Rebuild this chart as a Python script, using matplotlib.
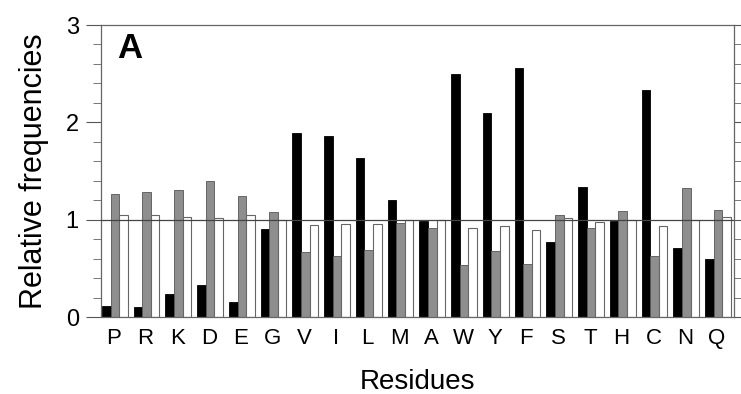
import numpy as np
import matplotlib.pyplot as plt
from matplotlib.ticker import MultipleLocator

plt.rcParams['font.family'] = ['Liberation Sans', 'DejaVu Sans']

residues = ['P', 'R', 'K', 'D', 'E', 'G', 'V', 'I', 'L', 'M',
            'A', 'W', 'Y', 'F', 'S', 'T', 'H', 'C', 'N', 'Q']
black_vals = [0.11, 0.10, 0.24, 0.33, 0.15, 0.90, 1.89, 1.86, 1.63, 1.20,
              0.99, 2.50, 2.10, 2.56, 0.77, 1.34, 0.99, 2.33, 0.71, 0.60]
gray_vals = [1.26, 1.28, 1.30, 1.40, 1.24, 1.08, 0.67, 0.63, 0.69, 0.97,
             0.91, 0.53, 0.68, 0.54, 1.05, 0.91, 1.09, 0.63, 1.33, 1.10]
white_vals = [1.05, 1.05, 1.03, 1.02, 1.05, 1.00, 0.95, 0.96, 0.96, 1.00,
              1.00, 0.91, 0.93, 0.89, 1.02, 0.98, 1.00, 0.93, 1.00, 1.03]

x = np.arange(len(residues))
w = 0.27

fig = plt.figure(figsize=(7.41, 3.94), dpi=100)
ax = fig.add_axes([0.1363, 0.1954, 0.8543, 0.7411])

ax.bar(x, black_vals, w, align='edge', color='black', edgecolor='black', linewidth=0.6, zorder=2)
ax.bar(x + w, gray_vals, w, align='edge', color='#8e8e8e', edgecolor='#555555', linewidth=0.6, zorder=2)
ax.bar(x + 2 * w, white_vals, w, align='edge', color='white', edgecolor='#666666', linewidth=0.8, zorder=2)
ax.axhline(1.0, color='#444444', linewidth=0.9, zorder=3)

ax.set_xlim(-0.03, 19.91)
ax.set_ylim(0, 3)
ax.set_xticks(x + 0.37)
ax.set_xticklabels(residues, fontsize=16)
ax.tick_params(axis='x', length=0, pad=8)
ax.yaxis.set_major_locator(MultipleLocator(1))
ax.yaxis.set_minor_locator(MultipleLocator(0.2))
ax.tick_params(axis='y', which='major', length=11, width=0.8, color='#555555',
               labelsize=17, pad=5, right=True, direction='out')
ax.tick_params(axis='y', which='minor', length=6, width=0.7, color='#777777',
               right=True, direction='out')

for s in ax.spines.values():
    s.set_color('#666666')
    s.set_linewidth(0.9)

ax.set_xlabel('Residues', fontsize=20, labelpad=14)
ax.set_ylabel('Relative frequencies', fontsize=22, labelpad=12)
ax.text(0.025, 0.975, 'A', transform=ax.transAxes, fontsize=25,
        fontweight='bold', va='top', ha='left')

fig.savefig('out.png', dpi=100)
